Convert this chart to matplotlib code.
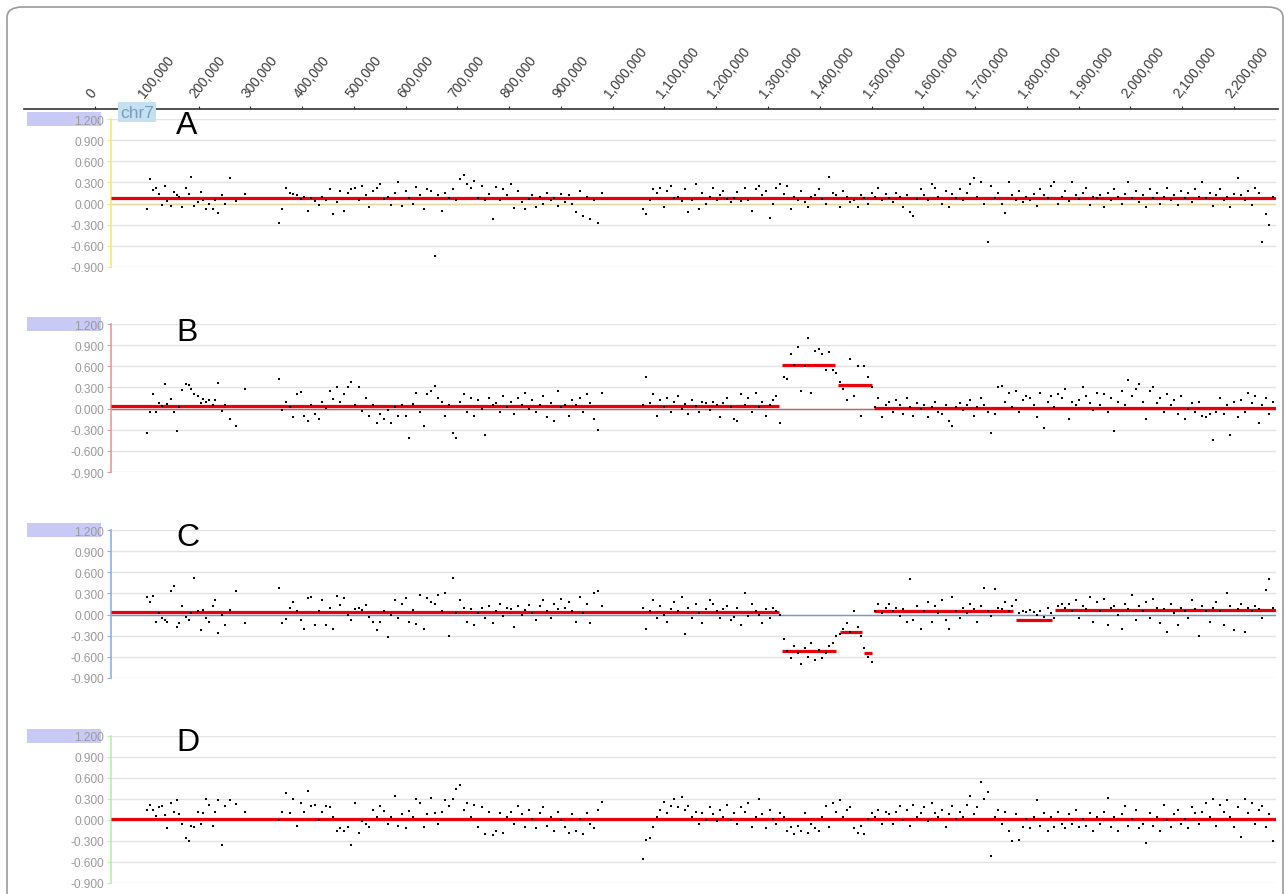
import numpy as np
import matplotlib.pyplot as plt
from matplotlib.patches import Rectangle, FancyBboxPatch

plt.rcParams['font.family'] = ['Liberation Sans', 'DejaVu Sans']

# probe positions on chr7 (kb)
probe_kb = [
    100, 106, 112, 117, 123, 129, 135, 140, 146, 152,
    158, 163, 169, 175, 181, 186, 192, 198, 204, 209,
    215, 221, 227, 232, 238, 245, 252, 261, 273, 290,
    355, 362, 369, 376, 383, 390, 397, 404, 411, 418,
    425, 432, 439, 446, 453, 460, 467, 474, 481, 488,
    495, 502, 509, 516, 523, 530, 537, 544, 551, 558,
    565, 572, 579, 586, 593, 600, 607, 614, 621, 628,
    635, 642, 649, 656, 663, 670, 677, 684, 691, 698,
    705, 712, 719, 726, 733, 740, 747, 754, 761, 768,
    775, 782, 789, 796, 803, 810, 817, 824, 831, 838,
    845, 852, 859, 866, 873, 880, 887, 894, 901, 908,
    915, 922, 929, 936, 943, 950, 957, 964, 971, 980,
    1058, 1065, 1072, 1078, 1085, 1092, 1099, 1105, 1112, 1119,
    1126, 1133, 1140, 1146, 1153, 1160, 1167, 1173, 1180, 1187,
    1194, 1201, 1208, 1214, 1221, 1228, 1235, 1241, 1248, 1255,
    1262, 1269, 1276, 1282, 1289, 1296, 1303, 1309, 1316, 1323,
    1330, 1337, 1344, 1350, 1357, 1364, 1371, 1377, 1384, 1391,
    1398, 1405, 1412, 1418, 1425, 1432, 1439, 1445, 1452, 1459,
    1466, 1473, 1480, 1486, 1493, 1500, 1507, 1513, 1520, 1527,
    1534, 1541, 1548, 1554, 1561, 1568, 1575, 1581, 1588, 1595,
    1602, 1609, 1616, 1622, 1629, 1636, 1643, 1649, 1656, 1663,
    1670, 1677, 1684, 1690, 1697, 1704, 1711, 1717, 1724, 1731,
    1738, 1745, 1752, 1758, 1765, 1772, 1779, 1785, 1792, 1799,
    1806, 1813, 1820, 1826, 1833, 1840, 1847, 1853, 1860, 1867,
    1874, 1881, 1888, 1894, 1901, 1908, 1915, 1921, 1928, 1935,
    1942, 1949, 1956, 1962, 1969, 1976, 1983, 1989, 1996, 2003,
    2010, 2017, 2024, 2030, 2037, 2044, 2051, 2057, 2064, 2071,
    2078, 2085, 2092, 2098, 2105, 2112, 2119, 2125, 2132, 2139,
    2146, 2153, 2160, 2166, 2173, 2180, 2187, 2193, 2200, 2207,
    2214, 2221, 2228, 2234, 2241, 2248, 2255, 2261, 2268, 2276,
]

ratio_a = [
    -0.08, 0.35, 0.19, 0.22, 0.13, -0.02, 0.25, 0.03, -0.03, 0.17,
    0.12, 0.10, -0.05, 0.22, 0.13, 0.37, -0.04, 0.02, 0.17, 0.05,
    -0.07, 0.00, -0.07, 0.05, -0.13, 0.12, 0.00, 0.36, 0.04, 0.14,
    -0.28, -0.08, 0.22, 0.15, 0.14, 0.12, 0.06, 0.10, -0.10, 0.08,
    0.04, -0.02, 0.10, 0.05, 0.20, -0.15, 0.02, 0.18, -0.10, 0.15,
    0.20, 0.22, 0.05, 0.25, 0.12, -0.05, 0.18, 0.22, 0.28, 0.06,
    0.10, -0.02, 0.15, 0.30, -0.04, 0.18, 0.08, 0.00, 0.23, 0.12,
    -0.08, 0.20, 0.18, -0.75, 0.12, -0.10, 0.15, 0.08, 0.20, 0.05,
    0.35, 0.40, 0.28, 0.22, 0.32, 0.08, 0.25, 0.05, 0.14, -0.22,
    0.24, 0.05, 0.20, 0.12, 0.28, -0.06, 0.18, 0.02, -0.08, 0.06,
    0.12, -0.05, 0.10, 0.00, 0.15, 0.05, 0.08, -0.04, 0.14, 0.02,
    0.12, 0.00, -0.12, 0.18, -0.18, 0.10, -0.22, 0.05, -0.28, 0.15,
    -0.08, -0.15, 0.05, 0.20, 0.15, 0.22, -0.05, 0.18, 0.25, 0.08,
    0.10, 0.03, 0.20, -0.12, 0.05, 0.28, -0.08, 0.15, 0.00, 0.10,
    0.22, 0.05, 0.12, 0.18, 0.06, 0.02, 0.08, 0.16, 0.04, 0.22,
    0.05, -0.10, 0.20, 0.25, 0.12, 0.18, -0.20, 0.00, 0.22, 0.28,
    0.14, 0.25, -0.08, 0.10, 0.05, 0.18, 0.02, -0.05, 0.10, 0.12,
    0.20, 0.06, 0.00, 0.38, 0.15, 0.12, -0.05, 0.18, 0.10, 0.02,
    0.05, -0.05, 0.12, 0.08, 0.00, 0.15, 0.10, 0.22, 0.05, 0.14,
    0.08, 0.02, 0.15, 0.10, -0.05, 0.12, -0.12, -0.18, 0.06, 0.20,
    0.12, 0.05, 0.28, 0.22, 0.10, 0.00, 0.18, -0.05, 0.14, 0.08,
    0.20, 0.05, 0.15, 0.28, 0.36, 0.10, 0.30, 0.00, -0.54, 0.25,
    0.08, 0.15, 0.00, -0.13, 0.30, 0.12, 0.05, 0.18, 0.02, 0.10,
    0.05, 0.14, -0.04, 0.20, 0.12, 0.08, 0.25, 0.30, 0.00, 0.10,
    0.18, 0.04, 0.30, 0.12, 0.06, 0.15, 0.22, -0.02, 0.10, 0.08,
    0.12, -0.05, 0.15, 0.05, 0.20, 0.10, 0.00, 0.14, 0.30, 0.08,
    0.18, 0.02, 0.12, -0.05, 0.20, 0.08, 0.15, 0.00, 0.10, 0.22,
    0.05, 0.12, -0.02, 0.18, 0.08, 0.15, 0.02, 0.20, 0.10, 0.30,
    0.08, 0.15, -0.03, 0.12, 0.20, 0.05, 0.10, -0.05, 0.14, 0.36,
    0.12, 0.05, 0.18, -0.02, 0.22, 0.15, -0.54, -0.15, -0.30, 0.10,
]

ratio_b = [
    -0.35, -0.05, 0.20, -0.05, 0.08, 0.04, 0.35, 0.06, 0.13, -0.05,
    -0.32, 0.02, 0.27, 0.35, 0.33, 0.28, 0.20, 0.18, 0.08, 0.14,
    0.10, 0.12, 0.05, 0.12, 0.36, -0.03, 0.05, -0.15, -0.25, 0.28,
    0.42, -0.02, 0.09, 0.02, -0.12, 0.20, 0.24, -0.10, -0.18, 0.05,
    -0.08, -0.15, 0.10, 0.01, 0.25, 0.13, 0.30, 0.10, 0.20, 0.30,
    0.37, 0.05, 0.30, -0.03, 0.15, -0.10, 0.05, -0.20, -0.08, -0.15,
    -0.02, -0.20, 0.02, -0.10, 0.05, -0.10, -0.42, 0.07, 0.22, -0.05,
    -0.25, 0.20, 0.25, 0.32, 0.15, 0.10, -0.10, 0.05, -0.35, -0.42,
    0.10, 0.20, -0.05, 0.15, -0.10, 0.12, 0.00, -0.38, 0.15, 0.05,
    0.08, -0.05, 0.18, 0.02, 0.10, -0.08, 0.15, 0.05, 0.22, 0.00,
    0.12, -0.05, 0.05, 0.18, -0.12, 0.08, -0.18, 0.25, 0.02, 0.05,
    -0.10, 0.12, 0.05, 0.15, -0.05, 0.20, 0.08, -0.15, -0.30, 0.22,
    0.05, 0.45, 0.08, 0.20, -0.10, 0.12, 0.02, 0.15, -0.05, 0.10,
    0.18, 0.00, 0.06, -0.08, 0.12, 0.03, -0.05, 0.10, 0.08, -0.02,
    0.10, 0.05, -0.12, 0.08, 0.15, 0.02, -0.15, -0.18, 0.20, 0.05,
    0.15, -0.05, 0.22, 0.02, 0.10, -0.10, 0.05, 0.12, 0.18, -0.20,
    0.45, 0.42, 0.78, 0.62, 0.88, 0.25, 0.60, 1.00, 0.22, 0.82,
    0.85, 0.78, 0.55, 0.80, 0.55, 0.50, 0.38, 0.28, 0.12, 0.70,
    0.18, 0.60, -0.10, 0.60, 0.45, 0.30, 0.02, 0.15, -0.12, 0.05,
    0.10, -0.05, 0.12, 0.05, -0.08, 0.15, 0.02, -0.10, 0.08, 0.00,
    0.05, -0.12, 0.02, 0.10, -0.05, -0.08, 0.05, -0.18, -0.25, 0.02,
    0.08, -0.02, 0.05, 0.12, -0.10, 0.02, 0.15, 0.05, -0.05, -0.35,
    -0.08, 0.30, 0.32, 0.10, 0.22, 0.02, 0.25, -0.05, 0.12, 0.18,
    0.15, 0.05, -0.12, 0.22, -0.28, 0.10, 0.18, 0.02, 0.20, 0.15,
    0.28, -0.15, 0.10, 0.05, 0.12, 0.30, 0.18, 0.08, -0.02, 0.22,
    0.05, 0.20, -0.05, 0.15, -0.32, 0.10, 0.25, 0.05, 0.40, 0.18,
    0.28, 0.35, 0.10, -0.15, 0.25, 0.30, 0.08, 0.15, -0.05, 0.20,
    0.05, 0.12, -0.08, 0.18, -0.15, 0.00, 0.08, -0.05, 0.10, -0.10,
    -0.12, -0.08, -0.45, -0.05, 0.15, -0.08, 0.05, -0.38, 0.10, -0.12,
    0.12, -0.05, 0.22, 0.08, 0.18, -0.20, 0.05, 0.15, -0.08, 0.10,
]

ratio_c = [
    0.25, 0.18, 0.27, -0.10, 0.02, -0.05, -0.08, -0.10, 0.33, 0.40,
    -0.18, -0.12, 0.12, -0.04, -0.07, 0.02, 0.52, 0.05, -0.22, 0.07,
    -0.05, -0.10, 0.12, 0.20, -0.26, 0.00, -0.15, 0.07, 0.34, -0.12,
    0.38, -0.12, -0.06, 0.10, 0.18, 0.05, -0.08, -0.20, 0.24, 0.25,
    -0.15, 0.05, 0.20, -0.15, 0.10, -0.20, 0.26, 0.14, 0.24, 0.00,
    -0.08, 0.08, 0.10, 0.07, 0.13, -0.03, -0.10, -0.22, -0.10, 0.05,
    -0.32, 0.00, 0.21, -0.05, 0.15, 0.23, -0.10, 0.07, -0.13, 0.28,
    -0.20, 0.24, 0.18, 0.15, 0.28, 0.05, 0.30, -0.31, 0.52, 0.02,
    0.20, 0.10, -0.10, 0.08, -0.15, 0.02, 0.10, -0.05, 0.12, -0.12,
    0.05, 0.15, -0.02, 0.10, 0.08, -0.18, 0.12, 0.00, 0.06, 0.14,
    0.02, -0.08, 0.12, 0.20, 0.05, -0.05, 0.15, 0.08, 0.22, 0.10,
    0.18, 0.05, -0.10, 0.25, 0.02, 0.15, -0.12, 0.30, 0.33, 0.12,
    0.10, -0.20, 0.05, 0.20, -0.05, 0.12, 0.00, -0.10, 0.08, 0.18,
    0.05, 0.25, -0.28, 0.10, -0.05, 0.15, 0.02, -0.12, 0.08, 0.20,
    0.15, 0.05, -0.05, 0.08, 0.12, -0.08, -0.04, 0.10, -0.15, 0.30,
    -0.02, 0.15, 0.05, 0.00, -0.12, 0.08, -0.05, 0.10, 0.05, 0.00,
    -0.35, -0.52, -0.62, -0.45, -0.55, -0.70, -0.48, -0.60, -0.40, -0.65,
    -0.50, -0.62, -0.55, -0.45, -0.40, -0.30, -0.28, -0.20, -0.12, -0.25,
    0.05, -0.18, -0.30, -0.48, -0.60, -0.68, 0.05, 0.15, 0.02, 0.10,
    0.15, 0.05, 0.10, -0.02, 0.08, -0.10, 0.50, -0.08, 0.12, -0.20,
    0.05, 0.18, -0.10, 0.12, 0.02, 0.20, -0.08, -0.21, 0.25, 0.05,
    -0.05, 0.10, 0.02, 0.15, 0.08, -0.10, 0.12, 0.37, 0.05, -0.02,
    0.36, 0.10, 0.08, 0.18, 0.05, 0.12, 0.20, 0.02, 0.05, 0.04,
    0.06, 0.03, 0.00, 0.05, -0.03, 0.10, 0.02, -0.05, 0.12, 0.15,
    0.10, 0.15, 0.05, 0.20, -0.05, 0.12, 0.08, 0.25, -0.10, 0.18,
    0.05, 0.22, -0.15, 0.10, 0.12, 0.00, -0.20, 0.15, 0.08, 0.28,
    -0.08, 0.12, 0.05, 0.18, -0.05, 0.22, 0.10, -0.12, 0.08, -0.25,
    0.15, 0.02, -0.15, 0.10, 0.05, -0.05, 0.20, 0.08, -0.30, 0.12,
    0.05, -0.10, 0.10, 0.18, 0.05, -0.15, 0.30, 0.12, -0.22, 0.08,
    0.15, -0.25, 0.10, 0.05, 0.12, 0.08, -0.05, 0.35, 0.50, 0.10,
]

ratio_d = [
    0.15, 0.22, 0.15, 0.06, 0.19, 0.20, 0.07, -0.12, 0.25, 0.12,
    0.28, 0.08, -0.05, -0.26, -0.30, -0.09, -0.10, 0.12, -0.05, 0.10,
    0.30, 0.22, -0.08, 0.12, 0.28, -0.35, 0.20, 0.28, 0.23, 0.12,
    0.00, 0.12, 0.39, 0.10, 0.30, -0.08, 0.25, 0.12, 0.42, 0.20,
    0.22, 0.00, 0.12, 0.20, 0.18, 0.05, -0.15, -0.12, -0.15, -0.10,
    -0.36, 0.25, -0.18, -0.02, -0.05, -0.10, 0.15, 0.04, 0.20, 0.13,
    -0.05, 0.05, 0.34, -0.08, 0.08, -0.12, 0.13, 0.05, 0.30, 0.25,
    -0.10, 0.08, 0.32, 0.10, -0.05, 0.12, 0.28, 0.20, 0.30, 0.45,
    0.50, 0.15, 0.25, 0.05, 0.22, -0.10, 0.18, -0.20, 0.12, -0.22,
    -0.15, 0.10, -0.18, 0.05, 0.12, -0.05, 0.20, 0.08, -0.10, 0.15,
    0.02, -0.12, 0.10, 0.18, -0.08, 0.05, -0.15, 0.12, 0.00, -0.10,
    -0.18, 0.08, -0.15, 0.02, -0.20, 0.10, -0.05, -0.12, 0.15, 0.26,
    -0.55, -0.28, -0.25, -0.10, 0.05, 0.15, 0.26, 0.10, 0.20, 0.30,
    0.18, 0.33, 0.15, 0.20, 0.05, 0.12, -0.05, 0.10, 0.00, 0.18,
    0.08, -0.02, 0.15, 0.05, 0.22, 0.00, 0.10, -0.05, 0.18, 0.12,
    0.25, -0.10, 0.05, 0.30, 0.08, -0.12, 0.15, 0.02, -0.05, 0.10,
    0.05, -0.15, -0.10, -0.20, -0.08, -0.15, 0.10, -0.18, -0.05, -0.12,
    -0.15, 0.05, 0.20, -0.10, 0.25, 0.12, 0.29, 0.05, 0.15, 0.18,
    -0.12, -0.18, -0.08, -0.20, 0.02, 0.10, 0.05, 0.15, -0.05, 0.12,
    0.08, -0.05, 0.12, 0.20, 0.00, 0.15, -0.08, 0.22, 0.05, 0.10,
    0.18, -0.02, 0.25, 0.10, 0.05, 0.15, -0.10, 0.08, 0.20, 0.02,
    0.12, 0.05, 0.22, 0.35, 0.08, 0.18, 0.55, 0.30, 0.40, -0.51,
    0.05, 0.15, -0.05, 0.12, -0.15, -0.30, 0.08, -0.28, -0.10, 0.02,
    -0.12, 0.05, 0.28, -0.08, 0.10, -0.15, 0.05, -0.10, 0.12, -0.05,
    -0.12, 0.08, -0.05, 0.15, -0.10, 0.02, -0.08, 0.10, -0.15, 0.05,
    -0.05, 0.12, 0.31, -0.10, 0.05, -0.15, 0.08, 0.20, -0.08, 0.02,
    0.15, -0.12, -0.05, -0.33, 0.10, -0.08, 0.05, -0.15, 0.22, 0.00,
    -0.10, 0.08, 0.15, -0.05, 0.02, -0.12, 0.18, 0.10, -0.05, 0.12,
    0.25, 0.05, 0.30, -0.08, 0.22, 0.12, 0.28, 0.05, -0.10, 0.18,
    -0.24, 0.30, 0.10, 0.25, -0.05, 0.15, 0.20, -0.10, 0.08, -0.30,
]

# segment calls: (start kb, end kb, level)
seg_a = [(31, 2281, 0.08)]
seg_b = [(31, 1321, 0.03), (1327, 1429, 0.62), (1435, 1501, 0.33), (1505, 2281, 0.005)]
seg_c = [(31, 1321, 0.04), (1327, 1431, -0.51), (1439, 1482, -0.25), (1485, 1501, -0.54),
         (1505, 1773, 0.05), (1779, 1849, -0.08), (1854, 2281, 0.07)]
seg_d = [(31, 2281, 0.02)]

panel_labels = ['A', 'B', 'C', 'D']
y_ticks = [-0.9, -0.6, -0.3, 0.0, 0.3, 0.6, 0.9, 1.2]
top_ticks_kb = [0, 100, 200, 300, 400, 500, 600, 700, 800, 900, 1000, 1100,
                1200, 1300, 1400, 1500, 1600, 1700, 1800, 1900, 2000, 2100, 2200]

W, H = 1288, 895
px_zero, px_per_kb = 95.0, 0.5177


def kb_at(px):
    return (px - px_zero) / px_per_kb


fig = plt.figure(figsize=(W / 100, H / 100), dpi=100)

# rounded frame
frame = FancyBboxPatch((7 / W, -0.05), (1283 - 7) / W, 1.05 - 8 / H,
                       boxstyle='round,pad=0,rounding_size=0.012',
                       transform=fig.transFigure, fc='white', ec='#9a9a9a',
                       lw=1.2, zorder=-5)
fig.add_artist(frame)

# top coordinate axis
ax_top = fig.add_axes([24 / W, 1 - 120 / H, (1278 - 24) / W, 10 / H])
ax_top.set_xlim(kb_at(24), kb_at(1278))
ax_top.set_ylim(0, 1)
ax_top.patch.set_alpha(0)
for s in ['left', 'right', 'bottom']:
    ax_top.spines[s].set_visible(False)
ax_top.spines['top'].set_color('#333333')
ax_top.spines['top'].set_linewidth(1.2)
ax_top.set_yticks([])
ax_top.xaxis.tick_top()
ax_top.set_xticks(top_ticks_kb)
ax_top.set_xticklabels(['{:,}'.format(v * 1000) for v in top_ticks_kb])
ax_top.tick_params(axis='x', direction='out', length=2.5, width=0.8, color='#333333',
                   labelsize=9.8, labelcolor='#3a3a3a', pad=4)
for lab in ax_top.get_xticklabels():
    lab.set_rotation(52)
    lab.set_ha('left')
    lab.set_va('bottom')
    lab.set_rotation_mode('anchor')

panels = [
    (ratio_a, seg_a, 120, 268, '#f1ea78', '#e4d7a0', 126),
    (ratio_b, seg_b, 325, 473, '#e49a9a', '#cf5a5a', 333),
    (ratio_c, seg_c, 531, 679, '#8eb0ea', '#6f98df', 538),
    (ratio_d, seg_d, 737, 884, '#b9efb1', '#e0e0a8', 743),
]

x_kb = np.array(probe_kb)
for label, (vals, segs, top, bot, axis_col, zero_col, lab_y) in zip(panel_labels, panels):
    ax = fig.add_axes([111 / W, 1 - bot / H, (1276 - 111) / W, (bot - top) / H])
    ax.set_xlim(kb_at(111), kb_at(1276))
    ax.set_ylim(-0.9, 1.2)
    ax.patch.set_alpha(0)
    for s in ['top', 'right', 'bottom']:
        ax.spines[s].set_visible(False)
    ax.spines['left'].set_color(axis_col)
    ax.spines['left'].set_linewidth(1.2)
    ax.set_xticks([])
    ax.set_yticks(y_ticks)
    ax.set_yticklabels(['%.3f' % v for v in y_ticks])
    ax.tick_params(axis='y', length=3, width=0.8, color=axis_col,
                   labelcolor='#9a9a9a', labelsize=8.6, pad=2)
    ax.grid(axis='y', color='#e3e3e3', lw=1)
    ax.set_axisbelow(True)
    ax.axhline(0, color=zero_col, lw=1.0, zorder=2)
    for x0, x1, lev in segs:
        ax.hlines(lev, x0, x1, colors='#e8000b', lw=2.3, zorder=3)
    ax.scatter(x_kb, vals, marker='s', s=4.5, c='black', linewidths=0,
               zorder=4, clip_on=False)

    # highlighted top tick box
    fig.add_artist(Rectangle((27 / W, 1 - (top + 7) / H), 74 / W, 14 / H,
                             transform=fig.transFigure, fc='#c9c9f6', ec='none',
                             zorder=-1))
    fig.text(176 / W, 1 - lab_y / H, label, fontsize=23, color='black',
             ha='left', va='center', fontweight='light')

fig.text(120 / W, 1 - 113 / H, 'chr7', fontsize=12.5, color='#7d9cba',
         ha='left', va='center',
         bbox=dict(boxstyle='square,pad=0.12', fc='#c4e0f2', ec='none'))

fig.savefig('out.png', dpi=100)
